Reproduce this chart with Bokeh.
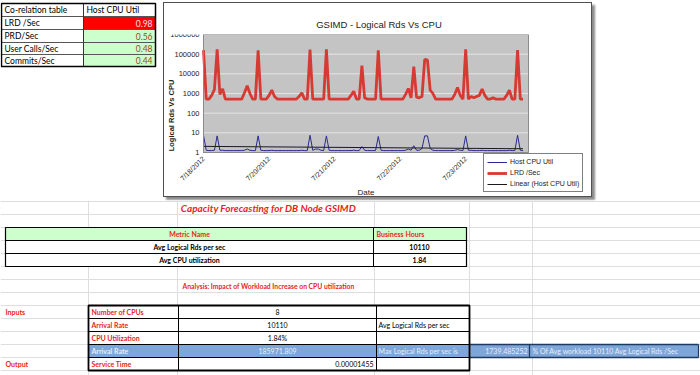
import numpy as np
from bokeh.plotting import figure
from bokeh.layouts import row, column
from bokeh.models import (FixedTicker, NumeralTickFormatter, Legend, LegendItem, Spacer, Label)
from bokeh.core.properties import value
from bokeh.embed import file_html
from bokeh.resources import INLINE

# ---------------- data ----------------
corr_header = ["Co-relation table", "Host CPU Util"]
corr_metrics = ["LRD /Sec", "PRD/Sec", "User Calls/Sec", "Commits/Sec"]
corr_values = ["0.98", "0.56", "0.48", "0.44"]

chart_title = "GSIMD - Logical Rds Vs CPU"
lrd_per_sec = [160000, 520, 520, 800, 1600, 175000, 900, 1700, 520, 520,
               520, 520, 520, 520, 520, 1100, 2500, 1000, 520, 520,
               155000, 520, 520, 520, 800, 1500, 700, 520, 520, 520,
               520, 520, 520, 520, 520, 700, 1100, 520, 520, 170000,
               520, 520, 520, 520, 520, 175000, 520, 520, 520, 520,
               520, 520, 520, 520, 800, 1300, 520, 520, 26000, 600,
               520, 520, 520, 520, 155000, 520, 520, 520, 520, 520,
               520, 520, 520, 520, 900, 1800, 600, 23000, 650, 600,
               700, 55000, 50000, 1500, 1000, 520, 520, 520, 520, 520,
               520, 520, 900, 2000, 800, 520, 175000, 520, 700, 600,
               700, 800, 1700, 800, 520, 520, 600, 520, 520, 520,
               520, 800, 1500, 520, 520, 160000, 520, 520]
host_cpu_util = [7.5, 1.3, 1.25, 1.25, 1.3, 7.0, 1.3, 1.3, 1.25, 1.25,
                 1.25, 1.25, 1.25, 1.25, 1.25, 1.3, 1.5, 1.3, 1.25, 1.25,
                 7.0, 1.3, 1.25, 1.25, 1.25, 1.3, 1.25, 1.25, 1.25, 1.25,
                 1.25, 1.25, 1.25, 1.25, 1.25, 1.25, 1.3, 1.25, 1.25, 7.5,
                 1.3, 1.5, 1.5, 1.3, 1.25, 7.0, 1.3, 1.25, 1.25, 1.25,
                 1.25, 1.25, 1.25, 1.25, 1.25, 1.3, 1.25, 1.25, 2.0, 1.3,
                 1.25, 1.25, 1.25, 1.25, 6.5, 1.3, 1.25, 1.25, 1.25, 1.25,
                 1.25, 1.25, 1.25, 1.25, 1.3, 1.5, 1.3, 2.2, 1.3, 1.3,
                 1.6, 7.0, 7.0, 1.6, 1.3, 1.25, 1.25, 1.25, 1.25, 1.25,
                 1.25, 1.25, 1.3, 1.4, 1.3, 1.25, 7.0, 1.3, 1.3, 1.25,
                 1.25, 1.25, 1.3, 1.25, 1.25, 1.25, 1.25, 1.25, 1.25, 1.25,
                 1.25, 1.25, 1.3, 1.25, 1.25, 7.5, 1.3, 1.25]
sample_index = list(range(len(lrd_per_sec)))
trend_x = [0, 117]
trend_cpu = [2.05, 1.55]
date_ticks = [0, 24, 48, 72, 96]
date_labels = ["7/18/2012", "7/20/2012", "7/21/2012", "7/22/2012", "7/23/2012"]
y_ticks = [1, 10, 100, 1000, 10000, 100000, 1000000]
y_title = "Logical Rds Vs CPU"
series_names = ["Host CPU Util", "LRD /Sec", "Linear (Host CPU Util)"]

forecast_title = "Capacity Forecasting for DB Node GSIMD"
forecast_header = ["Metric Name", "Business Hours"]
forecast_metrics = ["Avg Logical Rds per sec", "Avg CPU utilization"]
forecast_values = ["10110", "1.84"]

analysis_title = "Analysis: Impact of Workload Increase on CPU utilization"
section_labels = ["Inputs", "Output"]
input_labels = ["Number of CPUs", "Arrival Rate", "CPU Utilization", "Arrival Rate", "Service Time"]
input_values = ["8", "10110", "1.84%", "185971.809", "0.00001455"]
input_notes = ["", "Avg Logical Rds per sec", "", "Max Logical Rds per sec is", ""]
max_rate = "1739.485252"
workload_note = "% Of Avg workload 10110 Avg Logical Rds /Sec"

# ---------------- helpers ----------------
SHEET_FONT = value("Lato")
GRID_C = "#dedede"


def no_align(p):
    if hasattr(p, "frame_align"):
        p.frame_align = False


def blank(w, h, xr, yr):
    p = figure(frame_width=w, frame_height=h, x_range=xr, y_range=yr, output_backend="svg",
               toolbar_location=None, x_axis_location=None, y_axis_location=None,
               min_border=0, outline_line_color=None, title=None)
    p.grid.visible = False
    no_align(p)
    return p


# ---------------- top-left correlation table ----------------
pt = blank(163, 200, (0, 163), (200, 0))
r_edges = [3, 16, 29, 42, 54, 66]
fills = ["#ff0000", "#ccffcc", "#ccffcc", "#ccffcc"]
pt.quad(left=83, right=155, top=r_edges[1:5], bottom=r_edges[2:6], fill_color=fills, line_color=None)
pt.segment(x0=1, x1=155, y0=r_edges[1:5], y1=r_edges[1:5], line_color="#555555", line_width=1)
pt.segment(x0=83, x1=83, y0=3, y1=66, line_color="#333333", line_width=1)
pt.quad(left=1, right=155, top=3, bottom=66, fill_color=None, line_color="black", line_width=1.5)
mids = [(a + b) / 2 for a, b in zip(r_edges[:-1], r_edges[1:])]
pt.text(x=[4, 86], y=[mids[0], mids[0]], text=corr_header, text_font=SHEET_FONT,
        text_font_size="8.5px", text_baseline="middle", text_color="black")
pt.text(x=4, y=mids[1:], text=corr_metrics, text_font=SHEET_FONT,
        text_font_size="8.5px", text_baseline="middle", text_color="black")
pt.text(x=152, y=mids[1:], text=corr_values, text_font=SHEET_FONT, text_font_size="8.5px",
        text_baseline="middle", text_align="right",
        text_color=["#ffe4e4", "#9a4a12", "#9a4a12", "#9a4a12"])

# ---------------- chart ----------------
X_LAST = 119          # right edge of the plotting area (category axis end)
X_START = -14.28      # frame extends left over the value-axis labels
X_END = 142.8         # frame extends right so the legend fits inside it
Y_START = 0.00458     # frame extends below 1 so date labels + legend sit inside it
pc = figure(width=429, height=195, y_axis_type="log", x_range=(X_START, X_END), y_range=(Y_START, 1e6),
            output_backend="svg", toolbar_location=None, title=chart_title,
            min_border_left=0, min_border_right=0, min_border_top=31, min_border_bottom=0,
            margin=(2, 0, 3, 0),
            styles={"border": "1px solid #505050", "box-shadow": "3px 3px 2px #8c8c8c"})
no_align(pc)
pc.background_fill_color = "white"
pc.border_fill_color = "white"
pc.outline_line_color = None
pc.grid.visible = False
pc.title.align = "center"
pc.title.offset = 0
pc.title.text_font = "Liberation Sans"
pc.title.text_font_size = "9.5px"
pc.title.text_font_style = "normal"
pc.title.text_color = "#222222"

pc.quad(left=0, right=X_LAST, bottom=1, top=1e6, fill_color="#c4c4c4", line_color=None, level="image")
pc.segment(x0=0, x1=X_LAST, y0=y_ticks, y1=y_ticks, line_color="#e4e4e4", line_width=1)

r_lrd = pc.line(sample_index, lrd_per_sec, line_color="#d63a33", line_width=2.8)
r_cpu = pc.line(sample_index, host_cpu_util, line_color="#2a2a90", line_width=1)
r_trend = pc.line(trend_x, trend_cpu, line_color="#1a1a1a", line_width=1)
pc.quad(left=0, right=X_LAST, bottom=1, top=1e6, fill_color=None, line_color="#8a8a8a", line_width=1)

pc.yaxis.ticker = FixedTicker(ticks=y_ticks)
pc.yaxis.formatter = NumeralTickFormatter(format="0")
pc.yaxis.bounds = (1, 1e6)
pc.yaxis.fixed_location = 0
pc.xaxis.ticker = FixedTicker(ticks=date_ticks)
pc.xaxis.major_label_overrides = dict(zip(date_ticks, date_labels))
pc.xaxis.major_label_orientation = np.pi / 4
pc.xaxis.fixed_location = 1
pc.xaxis.bounds = (0, X_LAST)
for ax in (pc.xaxis[0], pc.yaxis[0]):
    ax.axis_line_color = "#8a8a8a"
    ax.major_tick_line_color = None
    ax.minor_tick_line_color = None
    ax.major_tick_out = 0
    ax.minor_tick_out = 0
    ax.major_label_text_font = "Liberation Sans"
    ax.major_label_text_color = "#222222"
    ax.axis_label_text_font = "Liberation Sans"
    ax.axis_label_text_color = "#222222"
pc.yaxis.major_label_text_font_size = "7.5px"
pc.yaxis.major_label_standoff = 4
pc.xaxis.major_label_text_font_size = "7px"
pc.xaxis.major_label_standoff = 5
pc.xaxis.axis_label = "Date"
pc.xaxis.axis_label_text_font_size = "8px"
pc.xaxis.axis_label_text_font_style = "normal"
pc.xaxis.axis_label_standoff = 1

# value-axis title placed like the original (low on the left, clear of long tick labels)
pc.add_layout(Label(x=-11.7, y=76, text=y_title, angle=np.pi / 2,
                    text_font="Liberation Sans", text_font_size="7.5px", text_font_style="bold",
                    text_align="center", text_baseline="middle", text_color="#222222"))

legend = Legend(items=[LegendItem(label=series_names[0], renderers=[r_cpu]),
                       LegendItem(label=series_names[1], renderers=[r_lrd]),
                       LegendItem(label=series_names[2], renderers=[r_trend])],
                location=(319, 6))
legend.label_text_font = "Liberation Sans"
legend.label_text_font_size = "7px"
legend.label_text_color = "#222222"
legend.glyph_width = 20
legend.glyph_height = 8
legend.label_height = 9
legend.label_standoff = 3
legend.spacing = 2
legend.padding = 3
legend.margin = 0
legend.border_line_color = "black"
legend.border_line_width = 1
legend.background_fill_alpha = 1
pc.add_layout(legend)

# ---------------- bottom sheet ----------------
pb = blank(700, 175, (0, 700), (375, 200))
row_lines = [201, 214, 227, 240, 253, 266, 279, 292, 305, 318, 331, 344, 357, 370]
col_lines = [88, 177, 374, 469, 532]
pb.segment(x0=0, x1=700, y0=row_lines, y1=row_lines, line_color=GRID_C, line_width=1)
pb.segment(x0=col_lines, x1=col_lines, y0=200, y1=375, line_color=GRID_C, line_width=1)

pb.text(x=[268], y=[207.5], text=[forecast_title], text_font=SHEET_FONT,
        text_font_style="bold italic", text_font_size="10px", text_color="#ee1c1c",
        text_align="center", text_baseline="middle")

# forecast table
pb.quad(left=5, right=466, top=240, bottom=266, fill_color="white", line_color=None)
pb.quad(left=5, right=466, top=227, bottom=240, fill_color="#ccffcc", line_color=None)
pb.segment(x0=5, x1=466, y0=[240, 253], y1=[240, 253], line_color="black", line_width=1)
pb.segment(x0=373, x1=373, y0=227, y1=266, line_color="black", line_width=1)
pb.quad(left=5, right=466, top=227, bottom=266, fill_color=None, line_color="black", line_width=1.2)
pb.text(x=[189], y=[233.5], text=[forecast_header[0]], text_font=SHEET_FONT, text_font_style="bold",
        text_font_size="7px", text_color="#e8251b", text_align="center", text_baseline="middle")
pb.text(x=[376], y=[233.5], text=[forecast_header[1]], text_font=SHEET_FONT, text_font_style="bold",
        text_font_size="7px", text_color="#e8251b", text_align="left", text_baseline="middle")
pb.text(x=189, y=[246.5, 259.5], text=forecast_metrics, text_font=SHEET_FONT, text_font_style="bold",
        text_font_size="7px", text_color="black", text_align="center", text_baseline="middle")
pb.text(x=419, y=[246.5, 259.5], text=forecast_values, text_font=SHEET_FONT, text_font_style="bold",
        text_font_size="7px", text_color="black", text_align="center", text_baseline="middle")

pb.text(x=[268], y=[285.5], text=[analysis_title], text_font=SHEET_FONT, text_font_style="bold",
        text_font_size="6.8px", text_color="#ee1c1c", text_align="center", text_baseline="middle")

# inputs table
in_rows = [305, 318, 331, 344, 357, 370]
in_mid = [(a + b) / 2 for a, b in zip(in_rows[:-1], in_rows[1:])]
pb.quad(left=88, right=469, top=305, bottom=370, fill_color="white", line_color=None)
pb.quad(left=88, right=698, top=344, bottom=357, fill_color="#7ea6d8", line_color=None)
pb.segment(x0=88, x1=469, y0=in_rows[1:-1], y1=in_rows[1:-1], line_color="black", line_width=1)
pb.segment(x0=[178, 376], x1=[178, 376], y0=305, y1=370, line_color="black", line_width=1)
pb.segment(x0=469, x1=698, y0=[344, 357], y1=[344, 357], line_color="#1f3a60", line_width=1.5)
pb.segment(x0=[529, 698], x1=[529, 698], y0=344, y1=357, line_color="#1f3a60", line_width=1.2)
pb.quad(left=88, right=469, top=305, bottom=370, fill_color=None, line_color="black", line_width=1.8)

pb.text(x=5, y=[in_mid[0], in_mid[4]], text=section_labels, text_font=SHEET_FONT, text_font_style="bold",
        text_font_size="7px", text_color="#e8251b", text_baseline="middle")
lab_colors = ["#e8251b", "#e8251b", "#e8251b", "#e6eef9", "#e8251b"]
pb.text(x=91, y=in_mid, text=input_labels, text_font=SHEET_FONT, text_font_style="bold",
        text_font_size="7px", text_color=lab_colors, text_baseline="middle")
val_colors = ["black", "black", "black", "#e6eef9"]
pb.text(x=277, y=in_mid[:4], text=input_values[:4], text_font=SHEET_FONT,
        text_font_size="7px", text_color=val_colors, text_align="center", text_baseline="middle")
pb.text(x=[373], y=[in_mid[4]], text=[input_values[4]], text_font=SHEET_FONT,
        text_font_size="7px", text_color="black", text_align="right", text_baseline="middle")
note_colors = ["black", "black", "black", "#e6eef9", "black"]
pb.text(x=378, y=in_mid, text=input_notes, text_font=SHEET_FONT,
        text_font_size="7px", text_color=note_colors, text_baseline="middle")
pb.text(x=[527], y=[in_mid[3]], text=[max_rate], text_font=SHEET_FONT,
        text_font_size="7px", text_color="#e6eef9", text_align="right", text_baseline="middle")
pb.text(x=[532], y=[in_mid[3]], text=[workload_note], text_font=SHEET_FONT,
        text_font_size="7px", text_color="#e6eef9", text_baseline="middle")

layout = column(row(pt, pc, Spacer(width=106, height=200)), pb)
open("out.html", "w").write(file_html(layout, INLINE))
